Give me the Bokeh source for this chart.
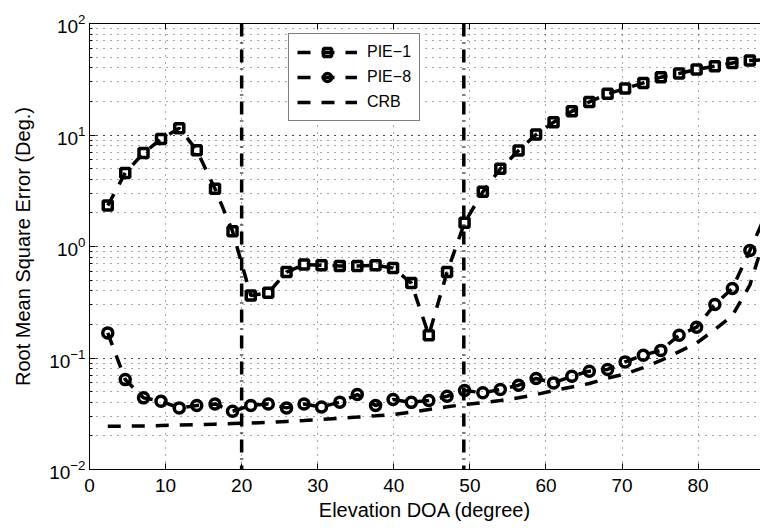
from bokeh.plotting import figure
from bokeh.models import Range1d, Span, Legend, LegendItem, LinearAxis, FixedTicker, CustomJSTickFormatter
from bokeh.embed import file_html
from bokeh.resources import INLINE

elevation = [2.4, 4.7, 7.1, 9.4, 11.8, 14.1, 16.5, 18.8, 21.2, 23.5, 25.9, 28.2, 30.5,
             32.9, 35.2, 37.6, 39.9, 42.3, 44.6, 47.0, 49.3, 51.7, 54.0, 56.4, 58.7,
             61.0, 63.4, 65.7, 68.1, 70.4, 72.8, 75.1, 77.5, 79.8, 82.2, 84.5, 86.8, 89.2]

pie1 = [2.33, 4.57, 6.9, 9.2, 11.5, 7.3, 3.29, 1.37, 0.364, 0.384, 0.59, 0.69, 0.68,
        0.67, 0.67, 0.68, 0.64, 0.47, 0.16, 0.59, 1.63, 3.09, 4.97, 7.26, 10.1,
        13.0, 16.3, 19.8, 23.4, 26.1, 29.3, 33.0, 35.6, 38.7, 41.4, 44.3, 46.6, 47.5]

pie8 = [0.168, 0.064, 0.0439, 0.041, 0.0357, 0.0375, 0.0387, 0.0333, 0.0375, 0.0387,
        0.0357, 0.0387, 0.0364, 0.0402, 0.047, 0.0375, 0.0424, 0.040, 0.0416, 0.0454,
        0.0512, 0.0487, 0.0522, 0.057, 0.0655, 0.0598, 0.0687, 0.0762, 0.0789, 0.0923,
        0.106, 0.117, 0.16, 0.189, 0.302, 0.42, 0.92, 2.16]

crb = [0.0244, 0.0245, 0.0246, 0.0248, 0.0250, 0.0252, 0.0255, 0.0258, 0.0261, 0.0265,
       0.0270, 0.0275, 0.0281, 0.0288, 0.0295, 0.0303, 0.0311, 0.0327, 0.0345, 0.0365,
       0.0383, 0.0397, 0.0415, 0.044, 0.047, 0.051, 0.055, 0.059, 0.066, 0.072,
       0.082, 0.095, 0.114, 0.136, 0.18, 0.24, 0.45, 1.5]

boundaries = [20.0, 49.2]
x_ticks = [0, 10, 20, 30, 40, 50, 60, 70, 80]
series_labels = ["PIE\u22121", "PIE\u22128", "CRB"]

FONT = "Liberation Sans"

p = figure(width=760, height=530, y_axis_type="log",
           x_range=Range1d(0, 88.2), y_range=Range1d(0.01, 100),
           output_backend="svg", toolbar_location=None,
           min_border_left=89, min_border_right=0, min_border_top=23, min_border_bottom=61)
p.outline_line_color = None
p.background_fill_color = "white"

# axes
p.xaxis.ticker = FixedTicker(ticks=x_ticks)
p.xaxis.axis_label = "Elevation DOA (degree)"
p.yaxis.axis_label = "Root Mean Square Error (Deg.)"
for ax in (p.xaxis[0], p.yaxis[0]):
    ax.axis_label_text_font = FONT
    ax.axis_label_text_font_style = "normal"
    ax.axis_label_text_font_size = "20px"
    ax.axis_label_text_color = "black"
    ax.major_label_text_font = FONT
    ax.major_label_text_font_size = "19px"
    ax.major_label_text_color = "black"
    ax.axis_line_color = "black"
    ax.axis_line_width = 1
    ax.major_tick_in = 6
    ax.major_tick_out = 0
    ax.major_tick_line_color = "black"
    ax.minor_tick_in = 3
    ax.minor_tick_out = 0
    ax.minor_tick_line_color = "black"
p.xaxis.minor_tick_line_color = None
p.xaxis.major_label_standoff = 9
p.xaxis.axis_label_standoff = 4
p.yaxis.major_label_standoff = 4
p.yaxis.axis_label_standoff = 12

top = LinearAxis(ticker=FixedTicker(ticks=x_ticks),
                 formatter=CustomJSTickFormatter(code="return ''"),
                 major_tick_in=6, major_tick_out=0, minor_tick_line_color=None,
                 major_label_standoff=0, axis_line_color="black")
p.add_layout(top, "above")

# grid
for g in (p.xgrid[0], p.ygrid[0]):
    g.grid_line_color = "black"
    g.grid_line_alpha = 0.7
    g.grid_line_dash = "1 6"
    g.grid_line_width = 1
p.xgrid.ticker = FixedTicker(ticks=x_ticks)
p.ygrid.minor_grid_line_color = "black"
p.ygrid.minor_grid_line_alpha = 0.7
p.ygrid.minor_grid_line_dash = "1 6"

# boundaries
for b in boundaries:
    p.add_layout(Span(location=b, dimension="height", line_color="black",
                      line_width=3.5, line_dash="13 6 1 6"))

DASH = "13 11"
l1 = p.line(elevation, pie1, line_color="black", line_width=3.5, line_dash=DASH)
s1 = p.scatter(elevation, pie1, marker="square", size=9, fill_color=None,
               line_color="black", line_width=3.5)
l2 = p.line(elevation, pie8, line_color="black", line_width=3.5, line_dash=DASH)
s2 = p.scatter(elevation, pie8, marker="circle", size=10, fill_color=None,
               line_color="black", line_width=3.5)
l3 = p.line(elevation, crb, line_color="black", line_width=3.5, line_dash=DASH)

legend = Legend(items=[LegendItem(label=series_labels[0], renderers=[l1, s1]),
                       LegendItem(label=series_labels[1], renderers=[l2, s2]),
                       LegendItem(label=series_labels[2], renderers=[l3])],
                location=(199, 348))
legend.label_text_font = FONT
legend.label_text_font_size = "16px"
legend.label_text_color = "black"
legend.glyph_width = 60
legend.glyph_height = 20
legend.label_height = 20
legend.label_standoff = 10
legend.spacing = 5
legend.padding = 8
legend.margin = 0
legend.border_line_color = "black"
legend.border_line_width = 1
legend.background_fill_alpha = 1
p.add_layout(legend, "center")

open("out.html", "w").write(file_html(p, INLINE))
